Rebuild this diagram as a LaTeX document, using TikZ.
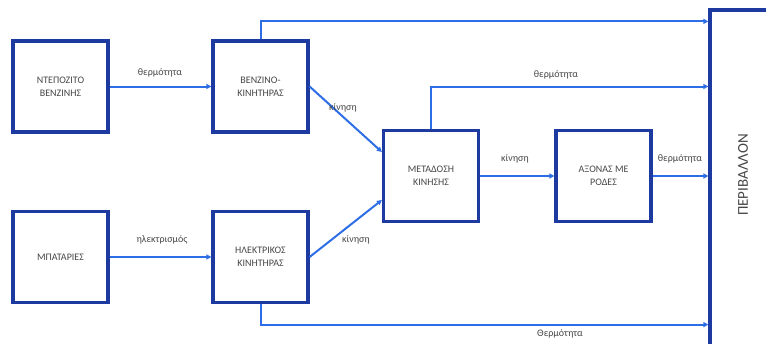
\documentclass[tikz,border=0pt]{standalone}
\usepackage{fontspec}
\setmainfont{Carlito}
\usetikzlibrary{arrows.meta,calc}
\definecolor{boxblue}{RGB}{28,58,160}
\definecolor{arrblue}{RGB}{45,110,230}
\definecolor{txt}{RGB}{70,70,70}
\tikzset{
  blk/.style={draw=boxblue, line width=3.2pt, minimum width=95pt, minimum height=91pt,
     align=center, text=txt, font=\fontsize{10}{13}\selectfont, inner sep=0pt},
  arr/.style={draw=arrblue, line width=2pt, -{Triangle[length=5pt,width=5pt]}},
  lbl/.style={text=txt, font=\fontsize{10}{12}\selectfont, inner sep=0pt},
}
\begin{document}
\begin{tikzpicture}[x=1pt,y=-1pt]
\useasboundingbox (0,0) rectangle (766,343);
\clip (0,0) rectangle (766,343);
\node[blk] (b1) at (60.5,86.5) {ΝΤΕΠΟΖΙΤΟ\\ΒΕΝΖΙΝΗΣ};
\node[blk] (b2) at (260.5,86.5) {ΒΕΝΖΙΝΟ-\\ΚΙΝΗΤΗΡΑΣ};
\node[blk] (b3) at (60.5,257) {ΜΠΑΤΑΡΙΕΣ};
\node[blk] (b4) at (260.5,257) {ΗΛΕΚΤΡΙΚΟΣ\\ΚΙΝΗΤΗΡΑΣ};
\node[blk] (b5) at (431,176) {ΜΕΤΑΔΟΣΗ\\ΚΙΝΗΣΗΣ};
\node[blk] (b6) at (603.5,176) {ΑΞΟΝΑΣ ΜΕ\\ΡΟΔΕΣ};
\node[draw=boxblue, line width=3.2pt, minimum width=70pt, minimum height=340pt, inner sep=0pt] (env) at (745,180) {};
\node[text=txt, font=\fontsize{15}{18}\selectfont, rotate=90] (envt) at (743,175) {ΠΕΡΙΒΑΛΛΟΝ};

\draw[arr] (b1.east) -- (b2.west);
\draw[arr] (b3.east) -- (b4.west);
\draw[arr] (b2.north) |- ([yshift=-13pt]env.north west);
\draw[arr] (b2.east) -- ([yshift=24pt]b5.west);
\draw[arr] (b4.east) -- ([yshift=-24pt]b5.west);
\draw[arr] (b5.north) |- (env.west |- b2.east);
\draw[arr] (b5.east) -- (b6.west);
\draw[arr] (b6.east) -- (env.west |- b6.east);
\draw[arr] (b4.south) |- ([yshift=27pt]env.south west);

\node[lbl] (l1) at (160,73) {θερμότητα};
\node[lbl] (l2) at (162,240) {ηλεκτρισμός};
\node[lbl] (l3) at (343,108) {κίνηση};
\node[lbl] (l4) at (356,240) {κίνηση};
\node[lbl] (l5) at (556,75) {θερμότητα};
\node[lbl] (l6) at (515,159) {κίνηση};
\node[lbl] (l7) at (680,159) {θερμότητα};
\node[lbl] (l8) at (560,334) {Θερμότητα};
\end{tikzpicture}
\end{document}
